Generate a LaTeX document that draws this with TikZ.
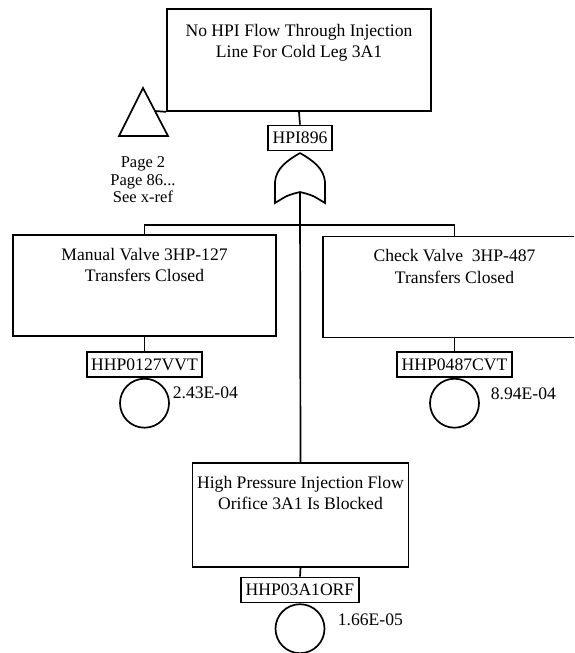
\documentclass[tikz,border=0pt]{standalone}
\usepackage{fontspec}
\setmainfont{Liberation Serif}
\begin{document}
\begin{tikzpicture}[x=1pt,y=-1pt, line width=1.7pt,
 evbox/.style={draw, rectangle, minimum width=263pt, minimum height=101pt, inner sep=0pt},
 boxtext/.style={anchor=north, align=center, font=\fontsize{17.6}{21.5}\selectfont, inner sep=0pt},
 idbox/.style={draw, rectangle, font=\fontsize{17.6}{20}\selectfont, inner xsep=4.5pt, minimum height=25pt, inner ysep=0pt},
 basic/.style={draw, circle, minimum size=49pt, inner sep=0pt},
 prob/.style={font=\fontsize{17.6}{20}\selectfont, anchor=west, inner sep=0pt},
 xref/.style={align=center, font=\fontsize{16.5}{17.5}\selectfont, inner sep=0pt}]
\useasboundingbox (0,0) rectangle (574,653);
\clip (0,0) rectangle (574,653);

% top event
\node[evbox, minimum width=264pt, minimum height=102pt] (top) at (299,60) {};
\node[boxtext] (toptext) at ([yshift=-15pt]top.north) {No HPI Flow Through Injection\\Line For Cold Leg 3A1};
\node[idbox] (hpi) at (300,138) {HPI896};
\draw (top.south) -- (hpi.north);

% transfer triangle
\coordinate (tri1) at (143,88);
\coordinate (tri2) at (168,136);
\coordinate (tri3) at (119,136);
\draw[line join=miter] (tri1) -- (tri2) -- (tri3) -- cycle;
\coordinate (trij) at (155,111);
\draw (trij) -- (top.south west);
\node[xref] (xr) at (143,180) {Page 2\\Page 86...\\See x-ref};

% OR gate
\coordinate (gtip) at (300,153);
\coordinate (gbot) at (300,192);
\draw (gtip) .. controls (312,160) and (324,168) .. (325,182) -- (325,203)
      .. controls (312,195) .. (gbot) .. controls (288,195) .. (275,203) -- (275,182)
      .. controls (276,168) and (288,160) .. (gtip);

% left event
\node[evbox] (lbox) at (144.5,285.5) {};
\node[boxtext] (ltext) at ([yshift=-13pt]lbox.north) {Manual Valve 3HP-127\\Transfers Closed};
\node[idbox] (lid) at (144.5,364.5) {HHP0127VVT};
\node[basic, anchor=north] (lc) at (lid.south) {};
\node[prob] (lp) at (172,393) {2.43E-04};
\draw (lbox.south) -- (lid.north);

% right event
\node[evbox] (rbox) at (454.5,287) {};
\node[boxtext] (rtext) at ([yshift=-13pt]rbox.north) {Check Valve\ \ 3HP-487\\Transfers Closed};
\node[idbox] (rid) at (454.5,364.5) {HHP0487CVT};
\node[basic, anchor=north] (rc) at (rid.south) {};
\node[prob] (rp) at (490,394) {8.94E-04};
\draw (rbox.south) -- (rid.north);

% bottom event
\node[evbox, minimum width=216pt, minimum height=104pt] (bbox) at (300.5,515) {};
\node[boxtext] (btext) at ([yshift=-13pt]bbox.north) {High Pressure Injection Flow\\Orifice 3A1 Is Blocked};
\node[idbox] (bid) at (300,590) {HHP03A1ORF};
\node[basic, anchor=north] (bc) at (bid.south) {};
\node[prob] (bp) at (337,620) {1.66E-05};
\draw (bbox.south) -- (bid.north);

% connectors
\coordinate (hl) at (144.5,225);
\coordinate (hr) at (454.5,225);
\draw (gbot) -- (bbox.north);
\draw (lbox.north) -- (hl) -- (hr) -- (rbox.north);
\end{tikzpicture}
\end{document}
